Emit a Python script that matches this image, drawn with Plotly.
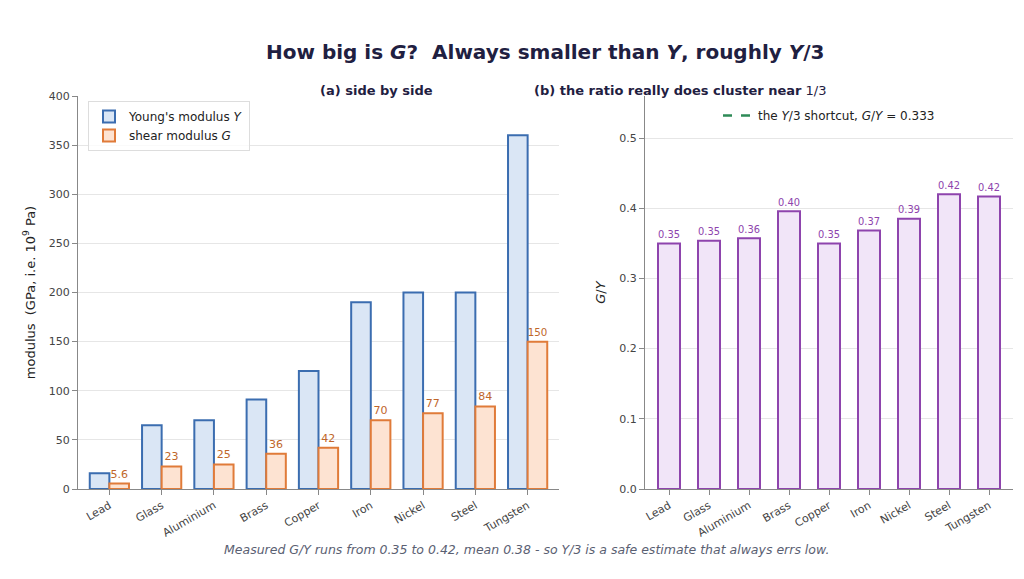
import plotly.graph_objects as go

materials = ["Lead", "Glass", "Aluminium", "Brass", "Copper", "Iron", "Nickel", "Steel", "Tungsten"]
young = [16, 65, 70, 91, 120, 190, 200, 200, 360]
shear = [5.6, 23, 25, 36, 42, 70, 77, 84, 150]
shear_labels = ["5.6", "23", "25", "36", "42", "70", "77", "84", "150"]
ratio = [g / y for g, y in zip(shear, young)]
shortcut = 1 / 3

W, H = 1024, 579
L, R, T, B = 70, 19, 88, 98
pw, ph = W - L - R, H - T - B
def px(x): return (x - L) / pw
def py(y): return (H - B - y) / ph

fig = go.Figure()
fig.add_trace(go.Bar(x=materials, y=young, name="Young's modulus <i>Y</i>",
                     marker=dict(color="#dae6f5", line=dict(color="#3b6db0", width=2)),
                     xaxis="x", yaxis="y", offsetgroup="a"))
fig.add_trace(go.Bar(x=materials, y=shear, name="shear modulus <i>G</i>",
                     marker=dict(color="#fde3d2", line=dict(color="#e07b39", width=2)),
                     text=shear_labels, textposition="outside", cliponaxis=False,
                     textfont=dict(color="#c0662a", size=11),
                     xaxis="x", yaxis="y", offsetgroup="b"))
fig.add_trace(go.Bar(x=materials, y=ratio, showlegend=False,
                     marker=dict(color="#f1e5f8", line=dict(color="#8e44ad", width=2)),
                     text=[f"{r:.2f}" for r in ratio], textposition="outside", cliponaxis=False,
                     textfont=dict(color="#8e44ad", size=11), width=0.55,
                     xaxis="x2", yaxis="y2"))
fig.add_trace(go.Scatter(x=[-0.5, len(materials) - 0.5], y=[shortcut, shortcut], mode="lines",
                         line=dict(color="#2e8b57", width=2.5, dash="dash"),
                         name="the <i>Y</i>/3 shortcut, <i>G</i>/<i>Y</i> = 0.333",
                         xaxis="x2", yaxis="y2", legend="legend2"))

ax = dict(showline=True, linecolor="#888", ticks="outside", tickcolor="#888", automargin=False,
          tickfont=dict(size=11, color="#444"), tickangle=-30, showgrid=False)
ay = dict(showline=True, linecolor="#888", ticks="outside", tickcolor="#888", automargin=False,
          tickfont=dict(size=11, color="#444"), gridcolor="#e6e6e6", zeroline=False)

fig.update_layout(
    width=W, height=H, plot_bgcolor="white", paper_bgcolor="white",
    font=dict(family="DejaVu Sans", color="#222"),
    margin=dict(l=L, r=R, t=T, b=B, autoexpand=False),
    barmode="group", bargap=0.25, bargroupgap=0.0,
    xaxis=dict(domain=[0, px(551)], anchor="y", range=[-0.6, 8.6], **ax),
    yaxis=dict(domain=[0, 1], anchor="x", range=[0, 400], dtick=50,
               title=dict(text="modulus  (GPa, i.e. 10<sup>9</sup> Pa)", font=dict(size=13), standoff=10), **ay),
    xaxis2=dict(domain=[px(637), 1], anchor="y2", range=[-0.6, 8.6], **ax),
    yaxis2=dict(domain=[0, 1], anchor="x2", range=[0, 0.56], dtick=0.1,
                tickformat=".1f", title=dict(text="<i>G</i>/<i>Y</i>", font=dict(size=13), standoff=10), **ay),
    legend=dict(x=px(80), y=py(93), xanchor="left", yanchor="top", font=dict(size=12),
                bgcolor="rgba(255,255,255,0.8)", bordercolor="#ddd", borderwidth=1),
    legend2=dict(x=px(821), y=py(93), xanchor="center", yanchor="top", font=dict(size=12),
                 bgcolor="rgba(255,255,255,0.8)"),
    annotations=[
        dict(text="<b>How big is <i>G</i>?  Always smaller than <i>Y</i>, roughly <i>Y</i>/3</b>",
             x=0.5, y=py(30), xref="paper", yref="paper", showarrow=False, xanchor="center",
             font=dict(size=20, color="#1f2041")),
        dict(text="<b>(a) side by side</b>", x=px(310), y=py(73), xref="paper", yref="paper",
             showarrow=False, font=dict(size=13, color="#1f2041")),
        dict(text="<b>(b) the ratio really does cluster near</b> 1/3", x=px(821), y=py(73),
             xref="paper", yref="paper", showarrow=False, font=dict(size=13, color="#1f2041")),
        dict(text="<i>Measured G/Y runs from 0.35 to 0.42, mean 0.38 - so Y/3 is a safe estimate that always errs low.</i>",
             x=px(518), y=py(551), xref="paper", yref="paper", showarrow=False,
             font=dict(size=12.5, color="#5a6072")),
    ],
)
fig.write_html("out.html")
